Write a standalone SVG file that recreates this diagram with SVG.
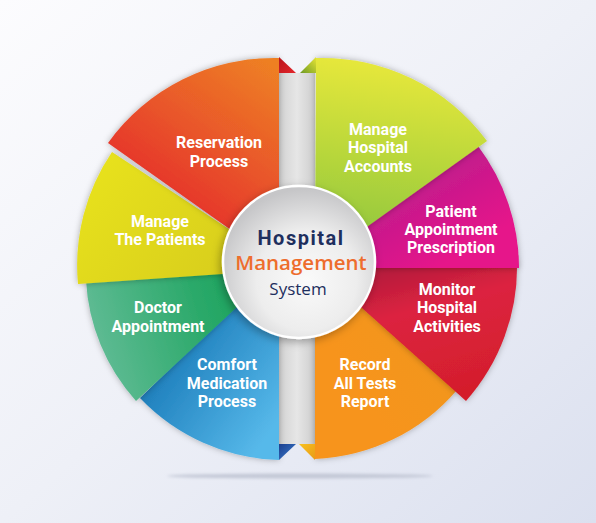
<svg xmlns="http://www.w3.org/2000/svg" width="596" height="523" viewBox="0 0 596 523">
<defs>
  <linearGradient id="bg" x1="0" y1="0" x2="1" y2="1">
    <stop offset="0" stop-color="#FCFCFE"/>
    <stop offset="0.5" stop-color="#EEF0F7"/>
    <stop offset="1" stop-color="#DBE0EF"/>
  </linearGradient>
  <linearGradient id="gRes" x1="0.9" y1="0" x2="0.35" y2="0.95">
    <stop offset="0" stop-color="#EE7F24"/>
    <stop offset="0.45" stop-color="#E9562A"/>
    <stop offset="1" stop-color="#E41E2C"/>
  </linearGradient>
  <linearGradient id="gPat" x1="0" y1="0.2" x2="1" y2="0.8">
    <stop offset="0" stop-color="#E8E21A"/>
    <stop offset="1" stop-color="#D6CB1E"/>
  </linearGradient>
  <linearGradient id="gDoc" x1="0" y1="0.5" x2="1" y2="0.3">
    <stop offset="0" stop-color="#62BC96"/>
    <stop offset="0.6" stop-color="#2BA96A"/>
    <stop offset="1" stop-color="#13A055"/>
  </linearGradient>
  <linearGradient id="gCom" x1="0" y1="0" x2="0.9" y2="0.9">
    <stop offset="0" stop-color="#144E7C"/>
    <stop offset="0.45" stop-color="#2586C2"/>
    <stop offset="1" stop-color="#57B9EA"/>
  </linearGradient>
  <linearGradient id="gAcc" x1="0.3" y1="0" x2="0.2" y2="1">
    <stop offset="0" stop-color="#E8E83A"/>
    <stop offset="0.5" stop-color="#B6D63A"/>
    <stop offset="1" stop-color="#86C242"/>
  </linearGradient>
  <linearGradient id="gPre" x1="0" y1="0" x2="0.8" y2="0.8">
    <stop offset="0" stop-color="#72287F"/>
    <stop offset="0.5" stop-color="#C21C8C"/>
    <stop offset="1" stop-color="#E6128A"/>
  </linearGradient>
  <linearGradient id="gMon" x1="0.2" y1="0" x2="0.6" y2="1">
    <stop offset="0" stop-color="#A9183A"/>
    <stop offset="0.4" stop-color="#DC2340"/>
    <stop offset="1" stop-color="#D41E2B"/>
  </linearGradient>
  <linearGradient id="gRec" x1="1" y1="0" x2="0.3" y2="0.65">
    <stop offset="0" stop-color="#9E6E2C"/>
    <stop offset="0.45" stop-color="#F2961F"/>
    <stop offset="1" stop-color="#F7941D"/>
  </linearGradient>
  <linearGradient id="gBar" x1="0" y1="0" x2="1" y2="0">
    <stop offset="0" stop-color="#D2D2D2"/>
    <stop offset="0.5" stop-color="#E6E6E6"/>
    <stop offset="1" stop-color="#CDCDCD"/>
  </linearGradient>
  <linearGradient id="tRed" x1="0" y1="0" x2="1" y2="1">
    <stop offset="0" stop-color="#B8141C"/>
    <stop offset="1" stop-color="#E3262B"/>
  </linearGradient>
  <linearGradient id="tGrn" x1="0" y1="1" x2="1" y2="0">
    <stop offset="0" stop-color="#6E9A26"/>
    <stop offset="1" stop-color="#E6E434"/>
  </linearGradient>
  <linearGradient id="tBlu" x1="0" y1="0" x2="1" y2="1">
    <stop offset="0" stop-color="#1B3F8E"/>
    <stop offset="1" stop-color="#3C7FD0"/>
  </linearGradient>
  <linearGradient id="tYel" x1="0" y1="0" x2="1" y2="1">
    <stop offset="0" stop-color="#F8C21E"/>
    <stop offset="1" stop-color="#E89A18"/>
  </linearGradient>
  <radialGradient id="gCir" cx="0.55" cy="0.62" r="0.6">
    <stop offset="0" stop-color="#FAFAFA"/>
    <stop offset="0.55" stop-color="#EDEDED"/>
    <stop offset="1" stop-color="#C6C6C8"/>
  </radialGradient>
  <filter id="sh" x="-20%" y="-20%" width="140%" height="140%">
    <feDropShadow dx="0" dy="0" stdDeviation="3" flood-color="#000" flood-opacity="0.3"/>
  </filter>
  <filter id="csh" x="-20%" y="-20%" width="140%" height="140%">
    <feDropShadow dx="-2" dy="3" stdDeviation="4" flood-color="#000" flood-opacity="0.3"/>
  </filter>
  <filter id="blur" x="-10%" y="-300%" width="120%" height="700%">
    <feGaussianBlur stdDeviation="1.5"/>
  </filter>
</defs>
<style>
  .lbl{font-family:Roboto,"Liberation Sans",sans-serif;font-weight:700;font-size:16px;fill:#FFFFFF;text-anchor:middle}
  .slice{filter:url(#sh)}
  .c1{font-family:Roboto,"Liberation Sans",sans-serif;font-weight:700;font-size:20px;fill:#1E2F5E;text-anchor:middle;letter-spacing:1.5px}
  .c2{font-family:"Open Sans","Liberation Sans",sans-serif;font-weight:600;font-size:20.5px;fill:#EE6D2D;text-anchor:middle}
  .c3{font-family:"Open Sans","Liberation Sans",sans-serif;font-weight:400;font-size:17px;fill:#1E2F5E;text-anchor:middle}
</style>

<rect x="0" y="0" width="596" height="523" fill="url(#bg)"/>
<ellipse cx="300" cy="476" rx="133" ry="2.5" fill="#C3C8D6" filter="url(#blur)"/>

<rect id="bar" x="279" y="73" width="36" height="371" fill="url(#gBar)"/>

<g id="connectors"></g>

<!-- left half, bottom to top -->
<g id="node-comfort">
  <path class="slice" d="M279,262 L140,398 A200,200 0 0,0 279,460 Z" fill="url(#gCom)"/>
  <text class="lbl" x="227" y="370">Comfort</text>
  <text class="lbl" x="227" y="389">Medication</text>
  <text class="lbl" x="227" y="407">Process</text>
</g>
<g id="node-doctor">
  <path class="slice" d="M279,268 L86,280 A196,196 0 0,0 136,401 Z" fill="url(#gDoc)"/>
  <text class="lbl" x="158" y="313">Doctor</text>
  <text class="lbl" x="158" y="332">Appointment</text>
</g>
<g id="node-patients">
  <path class="slice" d="M279,262 L112,152 A202,202 0 0,0 78,284 L279,270 Z" fill="url(#gPat)"/>
  <text class="lbl" x="160" y="227">Manage</text>
  <text class="lbl" x="160" y="245">The Patients</text>
</g>
<g id="node-reservation">
  <path class="slice" d="M279,58 A205,205 0 0,0 108,143 L279,264 Z" fill="url(#gRes)"/>
  <text class="lbl" x="219" y="148">Reservation</text>
  <text class="lbl" x="219" y="167">Process</text>
</g>

<!-- right half, bottom to top -->
<g id="node-record">
  <path class="slice" d="M315,262 L457,390 A197,197 0 0,1 315,459 Z" fill="url(#gRec)"/>
  <text class="lbl" x="365" y="370">Record</text>
  <text class="lbl" x="365" y="389">All Tests</text>
  <text class="lbl" x="365" y="407">Report</text>
</g>
<g id="node-monitor">
  <path class="slice" d="M315,266 L517,262 A202,202 0 0,1 466,401 Z" fill="url(#gMon)"/>
  <text class="lbl" x="447" y="295">Monitor</text>
  <text class="lbl" x="447" y="313">Hospital</text>
  <text class="lbl" x="447" y="332">Activities</text>
</g>
<g id="node-prescription">
  <path class="slice" d="M315,262 L478,146 A203,203 0 0,1 519,268 L315,268 Z" fill="url(#gPre)"/>
  <text class="lbl" x="451" y="217">Patient</text>
  <text class="lbl" x="451" y="235">Appointment</text>
  <text class="lbl" x="451" y="253">Prescription</text>
</g>
<g id="node-accounts">
  <path class="slice" d="M316,58 A205,205 0 0,1 487,141 L315,264 Z" fill="url(#gAcc)"/>
  <text class="lbl" x="378" y="135">Manage</text>
  <text class="lbl" x="378" y="153">Hospital</text>
  <text class="lbl" x="378" y="172">Accounts</text>
</g>

<g id="folds">
  <polygon points="279,57 296,73 279,73" fill="url(#tRed)"/>
  <polygon points="316,57 300,73 316,73" fill="url(#tGrn)"/>
  <polygon points="279,444 296,444 279,460" fill="url(#tBlu)"/>
  <polygon points="299,444 315,444 315,460" fill="url(#tYel)"/>
</g>

<g id="node-center">
  <circle cx="299" cy="262" r="76" fill="url(#gCir)" stroke="#FFFFFF" stroke-width="2.5" filter="url(#csh)"/>
  <text class="c1" x="301" y="245">Hospital</text>
  <text class="c2" x="301" y="270">Management</text>
  <text class="c3" x="298" y="295">System</text>
</g>
</svg>
